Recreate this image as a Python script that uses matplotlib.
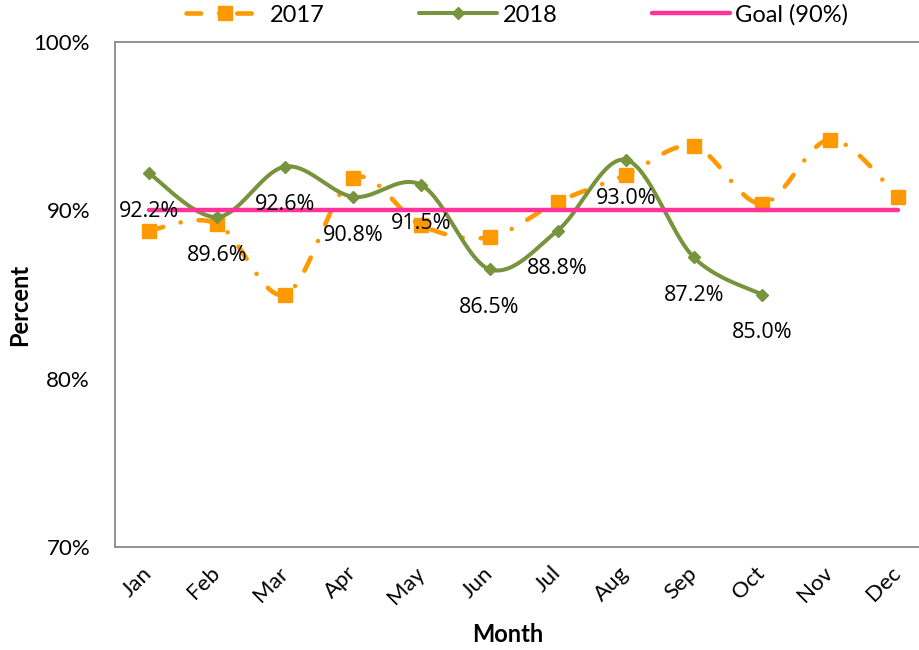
import numpy as np
import matplotlib
matplotlib.use("Agg")
import matplotlib.pyplot as plt
from matplotlib.lines import Line2D
from matplotlib.transforms import ScaledTranslation

months = ["Jan", "Feb", "Mar", "Apr", "May", "Jun", "Jul", "Aug", "Sep", "Oct", "Nov", "Dec"]
values_2017 = [88.8, 89.2, 85.0, 91.9, 89.1, 88.4, 90.5, 92.1, 93.8, 90.4, 94.2, 90.8]
values_2018 = [92.2, 89.6, 92.6, 90.8, 91.5, 86.5, 88.8, 93.0, 87.2, 85.0]
goal = [90.0] * 12
y_ticks = [70, 80, 90, 100]
series_names = ["2017", "2018", "Goal (90%)"]

C17 = "#FF9900"
C18 = "#77933C"
CGOAL = "#FF3399"
FRAME = "#898989"

plt.rcParams["lines.scale_dashes"] = False


def smooth(xs, ys, n=40):
    pts = np.column_stack([np.asarray(xs, float), np.asarray(ys, float)])
    out = []
    m = len(pts)
    for i in range(m - 1):
        p0 = pts[i - 1] if i > 0 else pts[i]
        p1 = pts[i]
        p2 = pts[i + 1]
        p3 = pts[i + 2] if i + 2 < m else pts[i + 1]
        c1 = p1 + (p2 - p0) / 6.0
        c2 = p2 - (p3 - p1) / 6.0
        t = np.linspace(0, 1, n)[:, None]
        seg = (1 - t) ** 3 * p1 + 3 * (1 - t) ** 2 * t * c1 + 3 * (1 - t) * t ** 2 * c2 + t ** 3 * p2
        out.append(seg if i == 0 else seg[1:])
    s = np.vstack(out)
    return s[:, 0], s[:, 1]


W, H = 919, 650
fig = plt.figure(figsize=(W / 100, H / 100), dpi=100)
ax_left, ax_top, ax_bottom = 115, 42, 547
ax_width = 12 * 68.1
ax = fig.add_axes([ax_left / W, (H - ax_bottom) / H, ax_width / W, (ax_bottom - ax_top) / H])

x17 = np.arange(len(values_2017))
x18 = np.arange(len(values_2018))
xg = np.arange(len(goal))

dash17 = (0, (10.5, 13.0, 0.01, 13.0))
lw17, lw18, lwg = 3.3, 2.9, 3.2

sx, sy = smooth(x17, values_2017)
ax.plot(sx, sy, color=C17, lw=lw17, dashes=dash17[1], dash_capstyle="round", zorder=2)
ax.plot(x17, values_2017, ls="none", marker="s", ms=9.4, color=C17, mec=C17, zorder=3)

sx, sy = smooth(x18, values_2018)
ax.plot(sx, sy, color=C18, lw=lw18, solid_capstyle="round", zorder=4)
ax.plot(x18, values_2018, ls="none", marker="D", ms=6, color=C18, mec=C18, zorder=5)

ax.plot(xg, goal, color=CGOAL, lw=lwg, solid_capstyle="round", zorder=6)

for i, v in enumerate(values_2018):
    ax.annotate(f"{v:.1f}%", (x18[i], v), xytext=(0, -27.5), textcoords="offset points",
                ha="center", va="center", fontsize=15.5, family="Open Sans", color="black", zorder=10)

ax.set_xlim(-0.5, 11.5)
ax.set_ylim(70, 100)
ax.set_yticks(y_ticks)
ax.set_yticklabels([f"{t}%" for t in y_ticks], family="Lato", fontsize=16)
ax.set_xticks(np.arange(len(months)))
ax.set_xticklabels(months, family="Lato", fontsize=16, rotation=45, ha="right", va="top")
ax.tick_params(axis="y", length=0, pad=18)
ax.tick_params(axis="x", length=0, pad=11.5)
off = ScaledTranslation(7 / 100, 0, fig.dpi_scale_trans)
for lab in ax.get_xticklabels():
    lab.set_transform(lab.get_transform() + off)

for side in ["left", "top", "bottom", "right"]:
    ax.spines[side].set_color(FRAME)
    ax.spines[side].set_linewidth(1.3)

ax.set_ylabel("Percent", family="Lato", fontsize=17, fontweight="bold")
ax.yaxis.set_label_coords((31 - ax_left) / ax_width, (ax_bottom - 305) / (ax_bottom - ax_top))
ax.set_xlabel("Month", family="Lato", fontsize=17, fontweight="bold")
ax.xaxis.set_label_coords((508 - ax_left) / ax_width, (ax_bottom - 623) / (ax_bottom - ax_top))

handles = [
    Line2D([], [], color=C17, lw=lw17, dashes=dash17[1], dash_capstyle="round", marker="s", ms=9.4),
    Line2D([], [], color=C18, lw=lw18, solid_capstyle="round", marker="D", ms=6),
    Line2D([], [], color=CGOAL, lw=lwg, solid_capstyle="round"),
]
fig.legend(handles, series_names, loc="upper center", bbox_to_anchor=(517 / W, 1.008), ncol=3,
           frameon=False, handlelength=3.3, handletextpad=0.25, columnspacing=4.0,
           prop={"family": "Lato", "size": 17}, borderaxespad=0)

fig.savefig("out.png", dpi=100)
